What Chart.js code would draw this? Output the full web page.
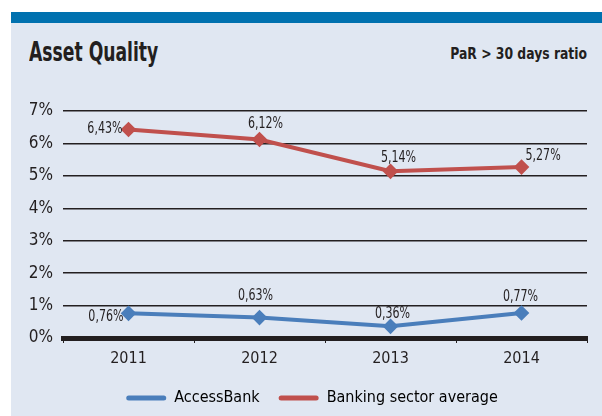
<!DOCTYPE html>
<html>
<head>
<meta charset="utf-8">
<script src="https://cdn.jsdelivr.net/npm/chart.js@4"></script>
<style>
  html, body { margin:0; padding:0; background:#ffffff; }
  body { width:602px; height:416px; position:relative; overflow:hidden;
         font-family:"Liberation Sans Narrow","DejaVu Sans Condensed","Roboto",sans-serif; }
  #panel { position:absolute; left:11px; top:12px; width:591px; height:404px; background:#e0e7f2; }
  #band { position:absolute; left:11px; top:12px; width:591px; height:11px; background:#0071af; }
  #title { position:absolute; left:29px; top:37px; font-size:26px; font-weight:bold; color:#231f20;
           transform:scaleX(0.735); transform-origin:left top; white-space:nowrap; }
  #subtitle { position:absolute; right:15px; top:44px; font-size:16px; font-weight:bold; color:#231f20;
              transform:scaleX(0.86); transform-origin:right top; white-space:nowrap; }
  #wrap { position:absolute; left:0; top:0; width:602px; height:416px; }
</style>
</head>
<body>
<div id="panel"></div>
<div id="band"></div>
<div id="title">Asset Quality</div>
<div id="subtitle">PaR &gt; 30 days ratio</div>
<div id="wrap"><canvas id="c" width="602" height="416"></canvas></div>
<script>
const categories = ["2011", "2012", "2013", "2014"];
const accessBank = [0.76, 0.63, 0.36, 0.77];
const sectorAverage = [6.43, 6.12, 5.14, 5.27];
const seriesNames = ["AccessBank", "Banking sector average"];
const yTicks = [0, 1, 2, 3, 4, 5, 6, 7];

const FONT = "'Liberation Sans Narrow','DejaVu Sans Condensed',Roboto,sans-serif";

// label placement per dataset per point: [dx, dy, align]
const labelPlacement = [
  [[-5, 4, 'right'], [-4, -21, 'center'], [2, -12, 'center'], [-1, -16, 'center']],
  [[-6, 0, 'right'], [6, -15, 'center'], [8, -13, 'center'], [4, -11, 'left']]
];
const LABEL_SQUEEZE = 0.82;
const LEGEND_SHIFT = 13;

const valueLabels = {
  id: 'valueLabels',
  afterLayout(chart) {
    if (chart.legend) {
      chart.legend.left += LEGEND_SHIFT;
      chart.legend.right += LEGEND_SHIFT;
    }
  },
  afterDatasetsDraw(chart) {
    const ctx = chart.ctx;
    chart.data.datasets.forEach((ds, di) => {
      const meta = chart.getDatasetMeta(di);
      meta.data.forEach((pt, i) => {
        const p = labelPlacement[di][i];
        const txt = ds.data[i].toFixed(2).replace('.', ',') + '%';
        ctx.save();
        ctx.font = "15px " + FONT;
        ctx.fillStyle = '#231f20';
        ctx.textBaseline = 'middle';
        ctx.textAlign = p[2];
        ctx.translate(pt.x + p[0], pt.y + p[1]);
        ctx.scale(LABEL_SQUEEZE, 1);
        ctx.fillText(txt, 0, 0);
        ctx.restore();
      });
    });
  }
};

new Chart(document.getElementById('c'), {
  type: 'line',
  data: {
    labels: categories,
    datasets: [
      { label: seriesNames[0], data: accessBank, borderColor: '#4a7ebb', backgroundColor: '#4a7ebb',
        borderWidth: 4, pointStyle: 'rectRot', pointRadius: 5, pointHoverRadius: 5, tension: 0 },
      { label: seriesNames[1], data: sectorAverage, borderColor: '#c0504d', backgroundColor: '#c0504d',
        borderWidth: 4, pointStyle: 'rectRot', pointRadius: 5, pointHoverRadius: 5, tension: 0 }
    ]
  },
  options: {
    responsive: false,
    animation: false,
    events: [],
    layout: { padding: { left: 11, right: 15, top: 111, bottom: 0 } },
    plugins: {
      tooltip: { enabled: false },
      legend: {
        position: 'bottom',
        labels: {
          color: '#231f20',
          font: { family: FONT, size: 16 },
          boxWidth: 40, boxHeight: 5, padding: 19,
          generateLabels(chart) {
            return chart.data.datasets.map((d, i) => ({
              text: d.label, fillStyle: d.borderColor, strokeStyle: d.borderColor,
              lineWidth: 0, borderRadius: 2.5, datasetIndex: i
            }));
          }
        }
      }
    },
    scales: {
      x: {
        offset: true,
        grid: { display: true, drawOnChartArea: false, drawTicks: true, tickLength: 5, offset: true, color: '#231f20', lineWidth: 1 },
        border: { display: true, color: '#231f20', width: 5 },
        ticks: { color: '#231f20', font: { family: FONT, size: 16 }, padding: 6 },
        afterFit(s) { s.height = 33; }
      },
      y: {
        min: 0, max: 7,
        afterBuildTicks(s) { s.ticks = yTicks.map(v => ({ value: v })); },
        grid: { color: '#231f20', lineWidth: 1.5, drawTicks: false },
        border: { display: false },
        ticks: { color: '#231f20', font: { family: FONT, size: 17 }, padding: 10,
                 callback: v => v + '%' },
        afterFit(s) { s.width = 52; }
      }
    }
  },
  plugins: [valueLabels]
});
</script>
</body>
</html>
